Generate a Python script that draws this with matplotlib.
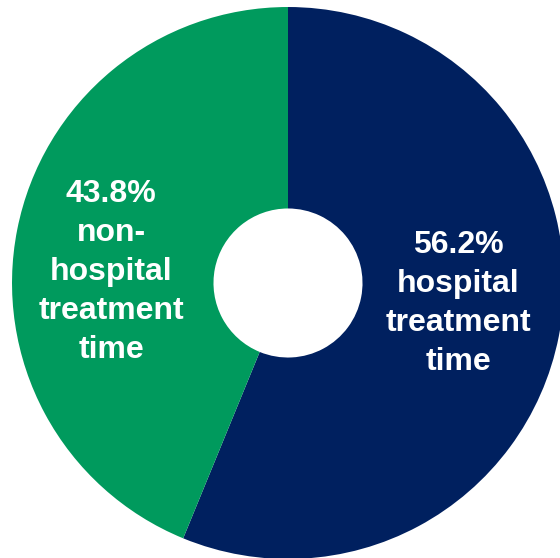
import matplotlib
matplotlib.use("Agg")
import matplotlib.pyplot as plt

shares = [56.2, 43.8]
labels = ["hospital\ntreatment\ntime", "non-\nhospital\ntreatment\ntime"]
colors = ["#00205F", "#009A5D"]

# label anchors in axes data units (pie radius = 1)
label_pos = [(0.616, -0.075), (-0.641, 0.040)]

fig = plt.figure(figsize=(5.6, 5.58), dpi=100)
ax = fig.add_axes([0, 0, 1, 1])

ax.pie(
    shares,
    colors=colors,
    startangle=90,
    counterclock=False,
    radius=1.0,
    wedgeprops=dict(width=0.73, linewidth=0),
)

for value, text, (x, y) in zip(shares, labels, label_pos):
    ax.text(
        x, y, f"{value:.1f}%\n{text}",
        ha="center", va="center", color="white",
        fontsize=23, fontweight="bold", family="Liberation Sans",
        linespacing=1.39,
    )

ax.set_xlim(-1.0435, 0.9855)
ax.set_ylim(-0.9964, 1.0254)
ax.set_aspect("equal")
ax.axis("off")

fig.savefig("out.png", dpi=100)
plt.close(fig)
